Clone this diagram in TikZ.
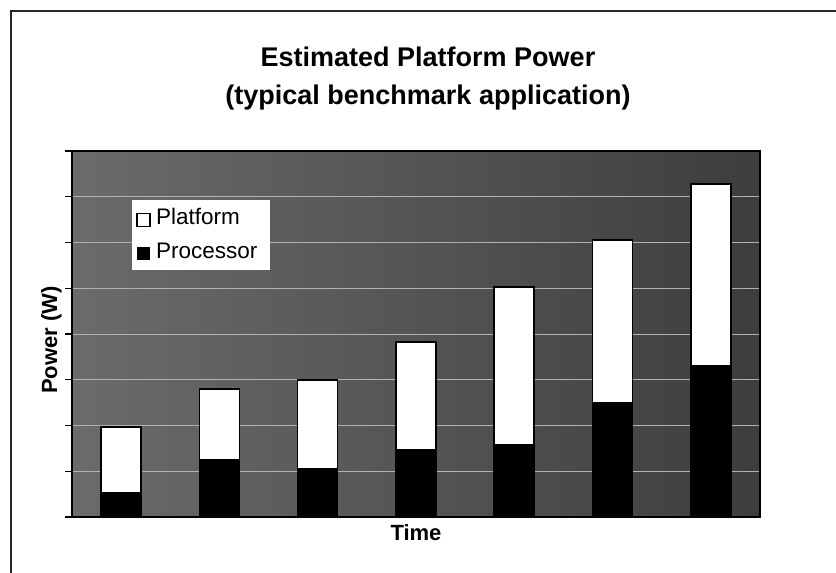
\documentclass[tikz,border=0pt]{standalone}
\usepackage{fontspec}
\setmainfont{Liberation Sans}
\begin{document}
\begin{tikzpicture}[x=1pt,y=-1pt,
  frameline/.style={line width=1.2pt, black!85},
  gridline/.style={line width=1pt, black!30},
  tickline/.style={line width=1.2pt, black},
  platbar/.style={fill=white, draw=black, line width=1.5pt},
  procbar/.style={fill=black, draw=black, line width=1.5pt},
  titletext/.style={font=\fontsize{27}{30}\selectfont\bfseries, anchor=base, inner sep=0pt},
  axistext/.style={font=\fontsize{22}{26}\selectfont\bfseries, anchor=base, inner sep=0pt},
  legendtext/.style={font=\fontsize{22.5}{24}\selectfont, anchor=base west, inner sep=0pt},
  legendmark/.style={minimum size=13pt, inner sep=0pt, line width=1.2pt}]
\useasboundingbox (0,0) rectangle (836,573);
% page rules along the top and left edge
\draw[frameline] (836,11) -- (11,11) -- (11,573);
% plot area with grid lines and ticks
\shade[left color=black!58, right color=black!76] (72,151) rectangle (760,517);
\foreach \k in {1,...,7}
  \draw[gridline] (72,{151+45.75*\k}) -- (760,{151+45.75*\k});
\foreach \k in {0,...,8}
  \draw[tickline] (65,{151+45.75*\k}) -- (72,{151+45.75*\k});
% stacked bars: centre / platform top / processor top
\foreach \cx/\bartop/\barproc in {121/427/493, 219.3/389/460, 317.6/380/469,
    415.9/342/450, 514.2/287/445, 612.5/240/403, 710.8/184/366} {
  \draw[procbar] (\cx-20,\barproc) rectangle (\cx+20,517);
  \draw[platbar] (\cx-20,\bartop) rectangle (\cx+20,\barproc);
}
\draw[line width=1.5pt] (72,151) rectangle (760,517);
% legend
\node[fill=white, minimum width=138pt, minimum height=70pt, anchor=north west, inner sep=0pt] (legend) at (132,200) {};
\node[legendmark, draw=black, fill=white] (platmark) at (143.5,220) {};
\node[legendtext] (plattext) at (156,224) {Platform};
\node[legendmark, fill=black] (procmark) at (143.5,253.5) {};
\node[legendtext] (proctext) at (156,258) {Processor};
% titles and axis labels
\node[titletext] (title1) at (428,66) {Estimated Platform Power};
\node[titletext] (title2) at (428,104) {(typical benchmark application)};
\node[axistext] (xlabel) at (416,540) {Time};
\node[axistext, rotate=90] (ylabel) at (57,340) {Power (W)};
\end{tikzpicture}
\end{document}
